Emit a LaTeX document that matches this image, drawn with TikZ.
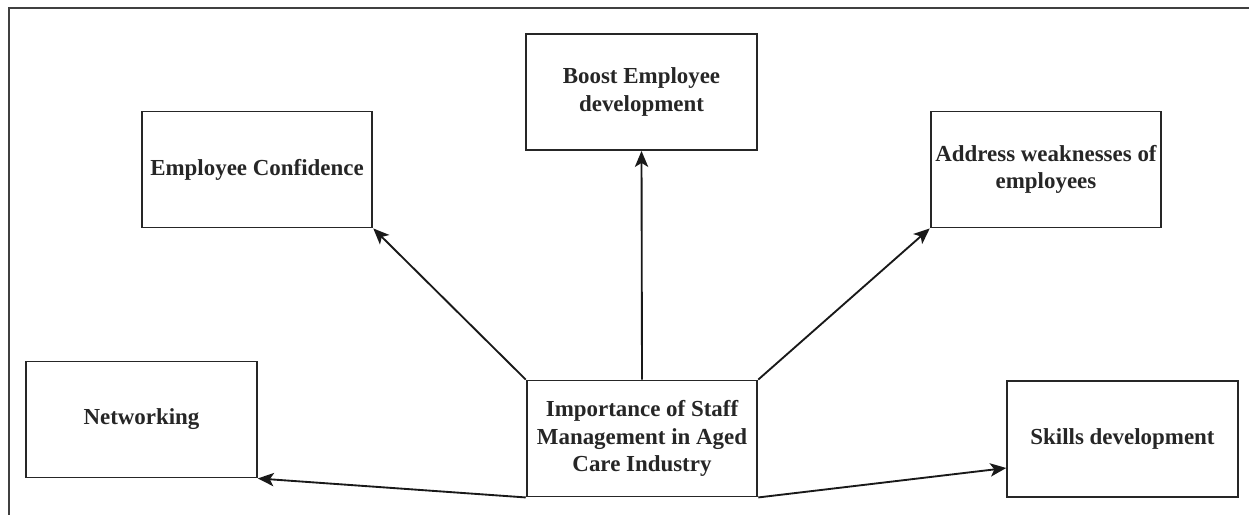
\documentclass[tikz,border=0pt]{standalone}
\usepackage{fontspec}
\setmainfont{Liberation Serif}
\usetikzlibrary{arrows.meta}
\begin{document}
\begin{tikzpicture}[x=0.75pt,y=-0.75pt,
  box/.style={draw=black!85, line width=1.4pt, minimum width=173pt, minimum height=87pt,
    inner sep=2pt, align=center, text=black!85,
    font=\bfseries\fontsize{17.2}{20.5}\selectfont},
  conn/.style={draw=black!90, line width=1.4pt, -{Stealth[length=12pt,width=10pt,inset=3pt]}}]
\useasboundingbox (0,0) rectangle (1249,515);
\coordinate (ftop) at (1249,8);
\coordinate (fcorner) at (9,8);
\coordinate (fbot) at (9,515);
\draw[line width=1.1pt, black!75] (ftop) -- (fcorner) -- (fbot);
\node[box] (conf) at (257,169.5) {Employee Confidence};
\node[box] (boost) at (641.5,92) {Boost Employee\\development};
\node[box] (addr) at (1046,169.5) {Address weaknesses of\\employees};
\node[box] (net) at (141.5,419.5) {Networking};
\node[box] (imp) at (642,438.5) {Importance of Staff\\Management in Aged\\Care Industry};
\node[box] (skills) at (1122.5,439) {Skills development};
\draw[conn] (imp.north west) -- (conf.south east);
\draw[conn] (imp.north) -- (boost.south);
\draw[conn] (imp.north east) -- (addr.south west);
\draw[conn] (imp.south west) -- (net.south east);
\draw[conn] (imp.south east) -- (skills.194);
\end{tikzpicture}
\end{document}
